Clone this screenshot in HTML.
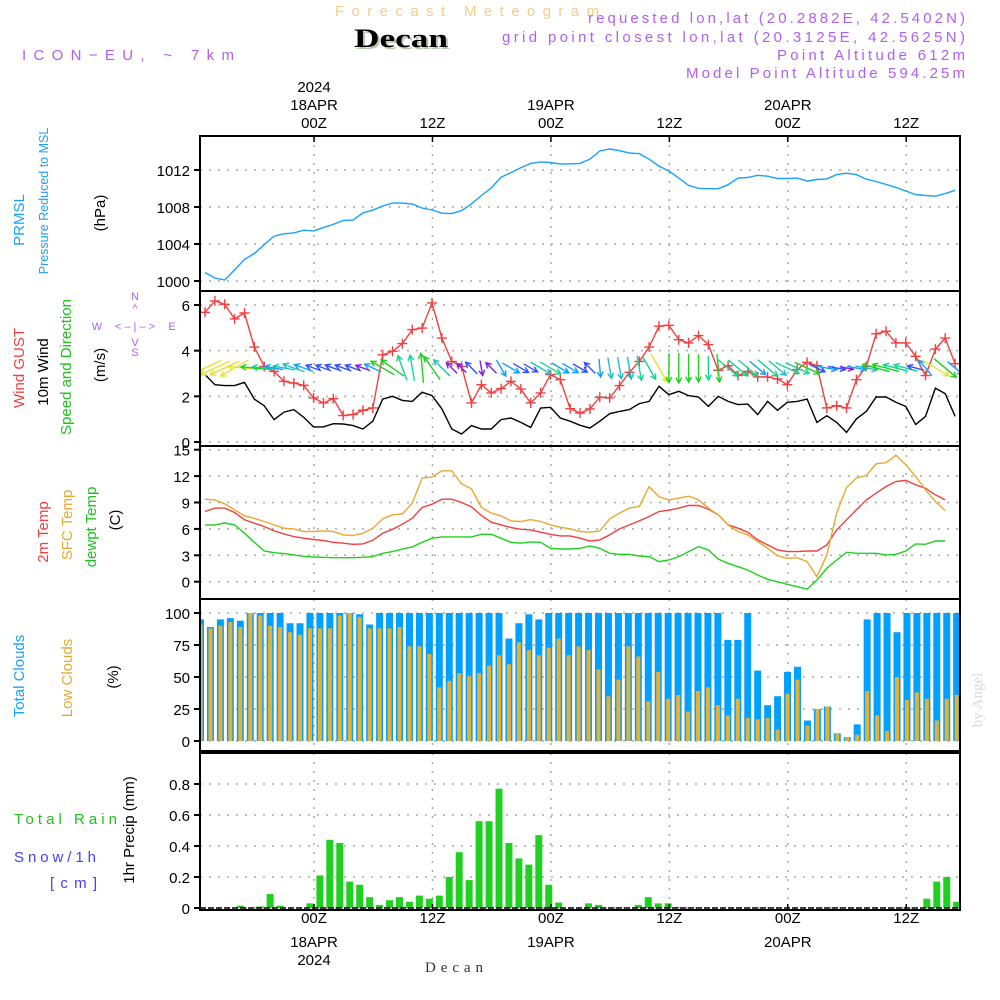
<!DOCTYPE html>
<html><head><meta charset="utf-8">
<style>
html,body{margin:0;padding:0;background:#fff;}
#wrap{position:relative;width:1000px;height:1000px;overflow:hidden;font-family:"Liberation Sans",sans-serif;}
svg{position:absolute;left:0;top:0;}
.t{font-family:"Liberation Sans",sans-serif;font-size:15px;}
</style></head>
<body>
<div id="wrap">
<svg id="svg" width="1000" height="1000" viewBox="0 0 1000 1000">
  <text x="335" y="16" class="t" font-size="17" fill="#f3cf8a" textLength="264" lengthAdjust="spacing">Forecast Meteogram</text>
  <text x="356" y="49" font-family="Liberation Serif, serif" font-weight="bold" font-size="26" fill="#b8c8b0" textLength="94" lengthAdjust="spacingAndGlyphs">Decan</text>
  <text x="354" y="47" font-family="Liberation Serif, serif" font-weight="bold" font-size="26" fill="#000" textLength="94" lengthAdjust="spacingAndGlyphs">Decan</text>
  <text x="22" y="60" class="t" font-size="17" fill="#b060f0" textLength="212" lengthAdjust="spacing">ICON−EU, ~ 7km</text>
  <g class="t" fill="#b060f0" font-size="14">
    <text x="588" y="23" textLength="377" lengthAdjust="spacing">requested lon,lat (20.2882E, 42.5402N)</text>
    <text x="502" y="42" textLength="463" lengthAdjust="spacing">grid point closest lon,lat (20.3125E, 42.5625N)</text>
    <text x="777" y="60" textLength="188" lengthAdjust="spacing">Point Altitude 612m</text>
    <text x="686" y="78" textLength="279" lengthAdjust="spacing">Model Point Altitude 594.25m</text>
  </g>
  <g id="grid"></g>
  <g id="marks"></g>
  <g id="frames"></g>
  <g id="axes" class="t"></g>
  <!-- left labels -->
  <g class="t" font-size="14" text-anchor="middle">
    <text transform="translate(24,220) rotate(-90)" fill="#1aa0ff">PRMSL</text>
    <text transform="translate(48,201) rotate(-90)" font-size="12.5" fill="#1aa0ff">Pressure Reduced to MSL</text>
    <text transform="translate(105,213) rotate(-90)" fill="#000">(hPa)</text>
    <text transform="translate(24,368) rotate(-90)" fill="#f04040">Wind GUST</text>
    <text transform="translate(48,372) rotate(-90)" fill="#000">10m Wind</text>
    <text transform="translate(71,367) rotate(-90)" fill="#20c020">Speed and Direction</text>
    <text transform="translate(105,365) rotate(-90)" fill="#000">(m/s)</text>
    <g fill="#b060f0" font-size="11">
      <text x="135" y="300">N</text>
      <text x="135" y="312">^</text>
      <text x="135" y="330">&lt; – | – &gt;</text>
      <text x="97" y="330">W</text>
      <text x="172" y="330">E</text>
      <text x="135" y="346">V</text>
      <text x="135" y="356">S</text>
    </g>
    <text transform="translate(48,532) rotate(-90)" fill="#f04040">2m Temp</text>
    <text transform="translate(72,525) rotate(-90)" fill="#e8a830">SFC Temp</text>
    <text transform="translate(96,527) rotate(-90)" fill="#20c020">dewpt Temp</text>
    <text transform="translate(120,520) rotate(-90)" fill="#000">(C)</text>
    <text transform="translate(24,676) rotate(-90)" fill="#1aa0ff">Total Clouds</text>
    <text transform="translate(72,678) rotate(-90)" fill="#e8a830">Low Clouds</text>
    <text transform="translate(118,677) rotate(-90)" fill="#000">(%)</text>
    <text transform="translate(134,830) rotate(-90)" font-size="15" fill="#000">1hr Precip (mm)</text>
  </g>
  <g class="t" font-size="15">
    <text x="14" y="824" fill="#20c020" textLength="103" lengthAdjust="spacing">Total  Rain</text>
    <text x="14" y="862" fill="#4040ff" textLength="82" lengthAdjust="spacing">Snow/1h</text>
    <text x="50" y="888" fill="#4040ff" textLength="47" lengthAdjust="spacing">[cm]</text>
  </g>
  <text transform="translate(982,700) rotate(-90)" text-anchor="middle" font-family="Liberation Serif, serif" font-size="15" fill="#d8d8d8">by Angel</text>
  <text x="425" y="972" font-family="Liberation Serif, serif" font-size="15" textLength="58" lengthAdjust="spacing" fill="#333">Decan</text>
</svg>
</div>
<script>
// ---- data (hourly) ----
const tickLabels = ["00Z","12Z","00Z","12Z","00Z","12Z"];
const tickDates = ["18APR","","19APR","","20APR",""];
const tickHours = [11.25, 23.25, 35.25, 47.25, 59.25, 71.25];
const pressure = [1000.92,1000.32,1000.11,1001.2,1002.34,1002.97,1003.93,1004.85,1005.1,1005.2,1005.49,1005.42,1005.77,1006.12,1006.55,1006.58,1007.36,1007.65,1008.11,1008.42,1008.42,1008.32,1007.89,1007.68,1007.33,1007.29,1007.61,1008.35,1009.24,1010.05,1011.22,1011.72,1012.25,1012.71,1012.88,1012.81,1012.64,1012.67,1012.71,1013.17,1014.05,1014.27,1014.09,1013.84,1013.77,1013.17,1012.42,1011.89,1011.12,1010.34,1010.02,1009.98,1009.98,1010.41,1011.12,1011.19,1011.43,1011.33,1011.08,1011.08,1011.12,1010.8,1010.97,1011.04,1011.5,1011.65,1011.5,1011.01,1010.76,1010.44,1010.12,1009.73,1009.35,1009.24,1009.17,1009.45,1009.81];
const gust = [5.68,6.18,6.03,5.39,5.65,4.16,3.31,3.09,2.66,2.58,2.48,1.93,1.71,1.9,1.16,1.2,1.39,1.49,3.82,3.97,4.31,4.92,4.99,6.09,4.55,3.53,3.31,1.71,2.51,2.15,2.34,2.66,2.32,1.71,2.15,2.95,2.73,1.46,1.27,1.45,1.96,1.93,2.47,3.05,3.53,4.16,5.07,5.11,4.48,4.34,4.66,4.26,3.14,3.34,2.91,3.09,2.85,2.85,2.76,2.51,3.17,3.49,3.34,1.49,1.59,1.49,2.73,3.31,4.74,4.85,4.34,4.34,3.75,2.91,4.07,4.55,3.43];
const wind10m = [2.95,2.51,2.47,2.47,2.61,1.88,1.59,0.98,1.31,1.42,1.08,0.66,0.66,0.8,0.79,0.72,0.57,0.91,1.88,2.0,1.82,1.78,2.18,2.03,1.45,0.57,0.35,0.72,0.57,0.57,0.98,1.05,0.86,0.64,1.49,1.52,1.05,0.91,0.73,0.61,0.91,1.24,1.34,1.42,1.68,1.78,2.44,2.07,2.22,2.03,1.97,1.56,2.0,1.78,1.64,1.66,1.2,1.78,1.39,1.74,1.78,1.88,0.86,1.15,0.86,0.42,1.01,1.34,1.97,1.97,1.74,1.56,0.76,1.12,2.36,2.12,1.12];
// screen angle (deg) the wind arrow points toward
const windDir = [155,155,155,150,185,185,185,190,190,200,200,200,200,200,200,200,200,205,210,215,250,260,265,235,225,225,225,225,80,225,60,30,30,30,30,30,30,30,30,225,85,80,80,80,80,60,60,90,90,90,90,90,85,40,40,40,40,40,40,25,25,25,25,10,10,10,10,10,195,195,195,195,195,230,30,40,40];
const sfcTemp = [9.38,9.3,8.85,8.17,7.48,7.2,6.84,6.46,6.08,6.0,5.7,5.7,5.77,5.7,5.32,5.24,5.5,6.08,7.14,7.6,7.7,8.93,11.77,11.9,12.6,12.6,11.1,10.56,8.43,7.79,7.48,6.91,6.84,7.06,6.84,6.46,6.19,6.0,5.7,5.62,5.77,7.14,7.79,8.36,8.55,10.79,9.65,9.3,9.49,9.72,9.3,8.36,7.6,6.46,5.7,5.32,4.56,3.8,2.96,2.66,2.73,2.28,0.57,3.04,7.79,10.71,11.77,12.08,13.4,13.52,14.36,13.29,11.96,10.44,9.11,8.09];
const temp2m = [7.98,8.36,8.36,7.86,7.03,6.65,6.27,5.77,5.43,5.13,4.94,4.79,4.67,4.48,4.37,4.25,4.29,4.71,5.51,5.96,6.53,7.22,8.43,8.81,9.38,9.38,9.0,8.51,7.52,6.76,6.46,6.15,5.96,5.89,5.62,5.39,5.2,5.2,4.94,4.63,4.75,5.32,6.0,6.46,6.91,7.41,7.98,8.13,8.36,8.66,8.66,8.24,7.6,6.46,6.08,5.62,4.75,4.18,3.61,3.42,3.42,3.49,3.49,4.18,5.89,7.03,8.17,9.3,10.06,10.82,11.39,11.51,11.01,10.63,9.87,9.3];
const dewpt = [6.46,6.46,6.68,6.46,5.51,4.48,3.49,3.3,3.19,3.04,2.89,2.81,2.77,2.73,2.73,2.73,2.77,2.85,3.23,3.42,3.72,3.95,4.48,4.94,5.09,5.09,5.09,5.09,5.39,5.39,4.94,4.48,4.37,4.52,4.48,3.8,3.72,3.72,3.8,4.06,3.8,3.23,3.11,3.11,2.92,2.85,2.28,2.47,2.85,3.42,3.99,3.61,2.58,2.09,1.71,1.33,0.76,0.27,0,-0.3,-0.57,-0.84,0.19,1.52,2.47,3.34,3.23,3.23,3.23,3.04,3.11,3.49,4.29,4.25,4.63,4.63];
const totalClouds = [95,89,95,96,94,100,100,100,100,92,92,100,100,100,100,100,99,91,100,100,100,100,100,100,100,100,100,100,100,100,100,80,92,99,95,100,100,100,100,100,100,100,100,100,100,100,100,100,100,100,100,100,100,79,79,100,55,28,35,54,58,16,25,27,6,3,13,95,100,100,85,100,100,100,100,100,100];
const lowClouds = [91,88,90,93,89,100,98,90,89,85,83,88,88,88,98,100,97,88,88,88,89,74,74,68,42,47,53,51,53,59,67,60,77,71,67,73,80,67,74,71,56,35,48,74,66,31,54,33,36,23,39,42,28,20,33,18,17,18,9,37,48,12,25,27,6,3,5,39,20,8,50,32,38,33,16,33,36];
const precip = [0,0,0,0,0.015,0,0.01,0.09,0.015,0,0,0.03,0.21,0.44,0.42,0.17,0.15,0.07,0.02,0.05,0.07,0.04,0.08,0.06,0.08,0.2,0.36,0.18,0.56,0.56,0.77,0.42,0.32,0.28,0.47,0.15,0.035,0,0,0.03,0.02,0,0,0,0.02,0.07,0.03,0.03,0.005,0,0,0,0,0,0,0,0,0,0,0,0,0,0,0,0,0,0,0,0,0,0,0,0,0.06,0.17,0.2,0.04];
const p1Ticks = [1000,1004,1008,1012];
const p2Ticks = [0,2,4,6];
const p3Ticks = [0,3,6,9,12,15];
const p4Ticks = [0,25,50,75,100];
const p5Ticks = [0,0.2,0.4,0.6,0.8];

// ---- scales ----
const X0 = 200, X1 = 960;
const xLine = i => 205 + 9.87*i;
const xBar = i => 200.5 + 9.95*i;
const xTick = h => 203 + 9.87*h;
const lin = (d0,d1,r0,r1) => v => r0 + (v-d0)*(r1-r0)/(d1-d0);
const panels = [
  {top:136,bot:291,y:lin(1000,1012,281,170),ticks:p1Ticks,fmt:v=>v},
  {top:291,bot:446,y:lin(0,6,442,305),ticks:p2Ticks,fmt:v=>v},
  {top:446,bot:599,y:lin(0,15,581.7,449.7),ticks:p3Ticks,fmt:v=>v},
  {top:599,bot:751,y:lin(0,100,741,613),ticks:p4Ticks,fmt:v=>v},
  {top:753,bot:910,y:lin(0,0.8,908,784),ticks:p5Ticks,fmt:v=>v===0?"0":v.toFixed(1)}
];
const NS="http://www.w3.org/2000/svg";
function mk(tag, attrs, parent){const e=document.createElementNS(NS,tag);for(const k in attrs)e.setAttribute(k,attrs[k]);parent.appendChild(e);return e;}
const grid=document.getElementById('grid'), marks=document.getElementById('marks'), frames=document.getElementById('frames'), axes=document.getElementById('axes');

const defs=mk('defs',{},document.getElementById('svg'));
const cp=mk('clipPath',{id:'plotclip'},defs);
mk('rect',{x:X0,y:130,width:X1-X0,height:790},cp);
marks.setAttribute('clip-path','url(#plotclip)');

panels.forEach((p,pi)=>{
  p.ticks.forEach(v=>{
    const y=p.y(v);
    const gl=mk('line',{x1:X0,x2:X1,y1:y,y2:y,stroke:'#aaa','stroke-width':1.5,'stroke-dasharray':'2,7'},grid);
    
    
    const tl=mk('line',{x1:X0-6,x2:X0,y1:y,y2:y,stroke:'#000','stroke-width':2},axes);
    
    
    const t=mk('text',{x:X0-10,y:y+6,'text-anchor':'end','font-size':15,fill:'#000'},axes);
    t.textContent=p.fmt(v);
    
    
  });
  tickHours.forEach(h=>{
    const x=xTick(h);
    const vl=mk('line',{x1:x,x2:x,y1:p.top,y2:p.bot,stroke:'#aaa','stroke-width':1.5,'stroke-dasharray':'2,7'},grid);
    
    
  });
  const r=mk('rect',{x:X0,y:p.top,width:X1-X0,height:p.bot-p.top,fill:'none',stroke:'#000','stroke-width':2},frames);
  
  
});

tickHours.forEach((h,k)=>{
  const x=xTick(h);
  [[136,-1],[910,1]].forEach(([yb,dir])=>{
    const tk=mk('line',{x1:x,x2:x,y1:yb,y2:yb+dir*(-6),stroke:'#000','stroke-width':1.5},axes);
    
    
  });
  const t1=mk('text',{x:x,y:128,'text-anchor':'middle','font-size':15,fill:'#000'},axes);
  t1.textContent=tickLabels[k];
  
  
  const b1=mk('text',{x:x,y:923,'text-anchor':'middle','font-size':15,fill:'#000'},axes);
  b1.textContent=tickLabels[k];
  
  
  if(tickDates[k]){
    const t2=mk('text',{x:x,y:110,'text-anchor':'middle','font-size':15,fill:'#000'},axes);
    t2.textContent=tickDates[k];
    
    
    const b2=mk('text',{x:x,y:947,'text-anchor':'middle','font-size':15,fill:'#000'},axes);
    b2.textContent=tickDates[k];
    
    
  }
  if(k===0){
    const t3=mk('text',{x:x,y:92,'text-anchor':'middle','font-size':15,fill:'#000'},axes);
    t3.textContent='2024';
    
    
    const b3=mk('text',{x:x,y:965,'text-anchor':'middle','font-size':15,fill:'#000'},axes);
    b3.textContent='2024';
    
    
  }
});

function polyline(arr, p, color, name){
  const pts=arr.map((v,i)=>xLine(i).toFixed(1)+','+p.y(v).toFixed(1)).join(' ');
  const pl=mk('polyline',{points:pts,fill:'none',stroke:color,'stroke-width':1.4},marks);
  
  
}
polyline(pressure,panels[0],'#1aa0ff','pressure-line');
polyline(wind10m,panels[1],'#000','wind-10m-line');
polyline(gust,panels[1],'#f04040','wind-gust-line');
gust.forEach((v,i)=>{
  const x=xLine(i), y=panels[1].y(v);
  const g=mk('path',{d:`M${x-5},${y}H${x+5}M${x},${y-5}V${y+5}`,stroke:'#f04040','stroke-width':1.4},marks);
  
  
});
function windColor(s){
  if(s>2.3) return '#e8e030';
  if(s>1.85) return '#20d020';
  if(s>1.5) return '#10d890';
  if(s>1.2) return '#20c0c0';
  if(s>0.9) return '#10a0ff';
  if(s>0.6) return '#3050ff';
  return '#8020e0';
}
windDir.forEach((a,i)=>{
  const s=wind10m[i];
  const L=10+s*9;
  const cx=xLine(i), cy=368;
  const r=a*Math.PI/180, dx=Math.cos(r), dy=Math.sin(r);
  const x1=cx-dx*L/2, y1=cy-dy*L/2, x2=cx+dx*L/2, y2=cy+dy*L/2;
  const h=6, ha=0.5;
  const hx1=x2-h*Math.cos(r-ha), hy1=y2-h*Math.sin(r-ha);
  const hx2=x2-h*Math.cos(r+ha), hy2=y2-h*Math.sin(r+ha);
  const arr=mk('path',{d:`M${x1},${y1}L${x2},${y2}M${hx1},${hy1}L${x2},${y2}L${hx2},${hy2}`,stroke:windColor(s),'stroke-width':1.4,fill:'none'},marks);
  
  
});
polyline(dewpt,panels[2],'#20d020','dewpt-line');
polyline(temp2m,panels[2],'#f04040','temp-2m-line');
polyline(sfcTemp,panels[2],'#e8a830','sfc-temp-line');
const p4=panels[3];
totalClouds.forEach((v,i)=>{
  const x=xBar(i);
  const b=mk('rect',{x:x-3.5,y:p4.y(v),width:7,height:p4.y(0)-p4.y(v),fill:'#00a0ff'},marks);
  
  
});
lowClouds.forEach((v,i)=>{
  const x=xBar(i);
  const b=mk('rect',{x:x-2,y:p4.y(v),width:4,height:p4.y(0)-p4.y(v),fill:'#e8b030'},marks);
  
  
});
const p5=panels[4];
precip.forEach((v,i)=>{
  if(v<=0) return;
  const x=xBar(i);
  const b=mk('rect',{x:x-3.5,y:p5.y(v),width:7,height:p5.y(0)-p5.y(v),fill:'#20d020'},marks);
  
  
});
const zl=mk('line',{x1:X0,x2:X1,y1:p5.y(0),y2:p5.y(0),stroke:'#000','stroke-width':1.5,'stroke-dasharray':'6,2'},marks);


</script>
</body></html>
